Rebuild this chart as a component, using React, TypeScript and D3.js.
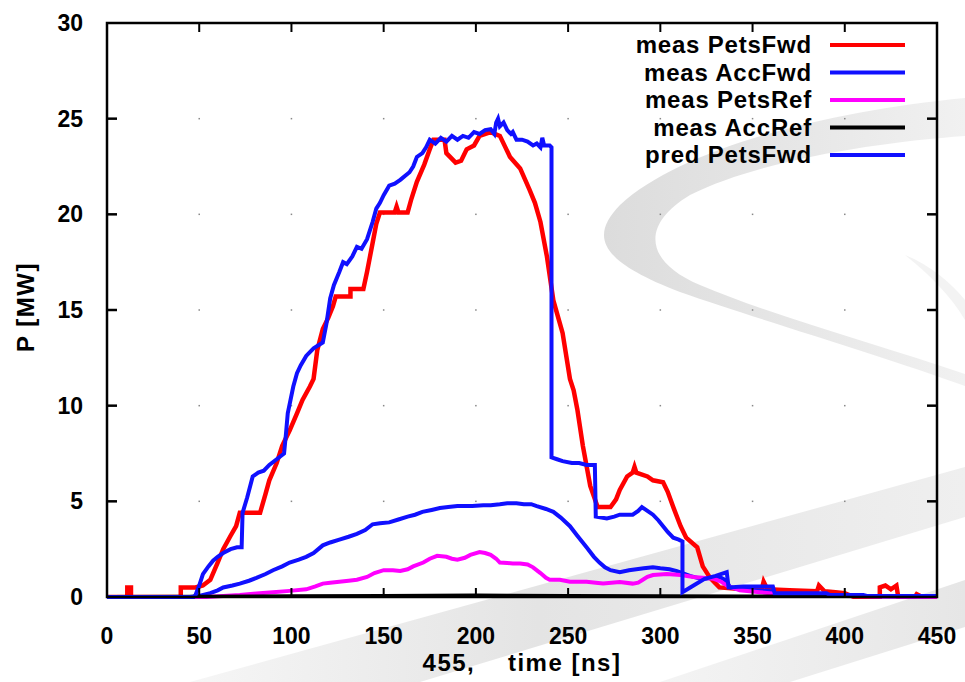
import React from "react";
import * as d3 from "d3";

// ---------- data (time [ns], P [MW]) ----------
const xTicks = [0, 50, 100, 150, 200, 250, 300, 350, 400, 450];
const yTicks = [0, 5, 10, 15, 20, 25, 30];

const legendLabels = ["meas PetsFwd", "meas AccFwd", "meas PetsRef", "meas AccRef", "pred PetsFwd"];

const measPetsFwd: [number, number][] = [
  [0, 0], [11, 0], [11, 0.5], [13, 0.5], [13, 0], [40, 0], [40, 0.5], [48, 0.5], [52, 0.6], [56, 0.9],
  [60, 1.8], [63, 2.5], [67, 3.2], [70, 3.7], [72, 4.4], [83, 4.4], [86, 5.4], [88, 6.1], [92, 7.0],
  [95, 7.9], [99, 8.7], [103, 9.6], [106, 10.3], [110, 11.0], [112, 11.4], [114, 12.9], [117, 14.0],
  [120, 14.6], [122.5, 15.2], [124, 15.7], [132, 15.7], [132, 16.1], [139, 16.1], [141, 17.0],
  [144, 18.5], [146, 19.5], [148, 20.1], [156, 20.1], [157, 20.4], [158, 20.1], [163, 20.1], [165, 20.8],
  [168, 21.7], [172, 22.6], [175, 23.4], [177, 23.9], [183, 23.9], [184, 23.2], [189, 22.7],
  [192, 22.8], [195, 23.4], [199, 23.6], [202, 24.1], [208, 24.3], [213, 24.1], [216, 23.5],
  [218.5, 23.0], [224, 22.4], [229, 21.3], [232, 20.6], [235, 19.6], [238.5, 17.8], [242, 15.5],
  [247, 13.8], [251, 11.4], [253, 10.8], [255, 9.8], [258, 7.9], [262, 5.8], [266, 4.7], [273, 4.7],
  [276, 5.1], [278, 5.6], [282, 6.3], [285, 6.5], [286, 6.8], [287, 6.5], [293, 6.3], [296, 6.1],
  [301.5, 6.0], [304, 5.5], [307, 4.7], [311, 3.7], [314, 3.1], [320, 2.6], [323, 1.6], [327, 1.0],
  [332, 0.5], [340, 0.45], [350, 0.4], [355, 0.4], [356, 0.8], [358, 0.4], [370, 0.35], [385, 0.3],
  [386, 0.6], [389, 0.3], [395, 0.25], [400, 0.2], [405, 0.0], [419, 0.0], [419, 0.5], [422, 0.6],
  [425, 0.4], [428, 0.6], [429, 0.0], [438, 0.0], [439, 0.15], [442, 0.0], [450, 0],
];

const measAccFwd: [number, number][] = [
  [0, 0], [45, 0], [50, 0.05], [56, 0.2], [60, 0.35], [63, 0.5], [68, 0.6], [72, 0.7], [77, 0.85],
  [81, 1.0], [86, 1.2], [90, 1.4], [95, 1.6], [99, 1.8], [104, 1.95], [108, 2.1], [112, 2.3],
  [117, 2.7], [121, 2.85], [126, 3.0], [131, 3.15], [135.5, 3.3], [140, 3.5], [144, 3.8], [148, 3.85],
  [153, 3.9], [158, 4.05], [163, 4.2], [167, 4.3], [171, 4.45], [176, 4.55], [180.5, 4.65], [185, 4.7],
  [190, 4.75], [198, 4.75], [204, 4.8], [208, 4.8], [213, 4.85], [217, 4.9], [222, 4.9], [226, 4.85],
  [230, 4.85], [233, 4.75], [238, 4.6], [242, 4.45], [246, 4.15], [251, 3.7], [255, 3.2], [260, 2.6],
  [264, 2.1], [267, 1.8], [270, 1.55], [273, 1.4], [278, 1.3], [283, 1.4], [287, 1.45], [291, 1.5],
  [296, 1.55], [300, 1.5], [305, 1.45], [309, 1.35], [312, 1.25], [316, 1.1], [320, 1.0], [324, 0.95],
  [328, 1.0], [332, 1.05], [335, 0.9], [338, 0.5], [343, 0.4], [350, 0.35], [360, 0.3], [362, 0.15],
  [380, 0.15], [400, 0.08], [420, 0.03], [450, 0],
];

const measPetsRef: [number, number][] = [
  [0, 0], [54, 0], [63, 0.05], [72, 0.1], [81, 0.18], [90, 0.25], [99, 0.32], [108, 0.4], [113, 0.55],
  [117, 0.7], [121, 0.75], [126, 0.8], [131, 0.85], [135.5, 0.9], [141, 1.05], [145, 1.25], [150, 1.4],
  [155, 1.4], [159, 1.36], [163, 1.45], [166, 1.6], [171.5, 1.8], [175, 2.0], [179, 2.15], [184, 2.1],
  [187, 2.0], [190, 1.95], [194, 2.05], [197, 2.2], [202, 2.35], [205, 2.3], [208, 2.2], [211, 2.0],
  [213, 1.8], [217, 1.78], [220, 1.75], [224, 1.75], [228, 1.7], [231, 1.55], [235, 1.25], [238, 1.0],
  [240, 0.9], [245.5, 0.9], [251, 0.8], [260, 0.8], [265, 0.75], [269, 0.7], [278, 0.78], [285, 0.7],
  [288, 0.75], [290.5, 0.9], [293, 1.05], [296, 1.15], [303.5, 1.2], [311, 1.15], [318, 1.05],
  [329, 0.95], [333, 0.8], [336, 0.6], [343, 0.35], [354, 0.25], [365, 0.15], [387, 0.1], [400, 0.05],
  [420, 0.02], [450, 0],
];

const measAccRef: [number, number][] = [
  [0, 0.03], [50, 0.04], [100, 0.06], [150, 0.08], [200, 0.1], [250, 0.08], [300, 0.06], [350, 0.05],
  [400, 0.04], [450, 0.03],
];

const predPetsFwd: [number, number][] = [
  [0, 0], [47, 0], [48, 0.1], [50, 0.6], [52, 1.2], [55, 1.6], [57.5, 1.9], [60, 2.1], [63, 2.3],
  [67, 2.5], [70.5, 2.6], [73, 2.6], [73.5, 4.4], [76, 5.2], [79, 6.3], [82, 6.5], [85, 6.6], [88, 6.9],
  [92, 7.2], [96, 7.5], [97, 8.5], [98, 9.6], [101, 11.0], [103, 11.7], [105, 12.1], [108, 12.6],
  [112, 13.0], [117, 13.3], [119, 14.3], [121, 15.6], [123, 16.3], [126, 17.0], [128, 17.5],
  [130, 17.4], [133, 17.8], [135.5, 18.3], [138, 18.2], [141, 18.7], [144, 19.6], [146, 20.3],
  [148, 20.6], [150, 21.0], [153, 21.5], [156, 21.6], [159, 21.8], [164, 22.2], [166, 22.5],
  [168, 23.0], [171, 23.2], [173, 23.5], [175, 23.9], [178, 23.7], [181, 24.0], [184, 23.8],
  [187, 24.1], [190, 23.9], [193, 24.1], [196, 24.0], [199, 24.3], [202, 24.2], [205, 24.4],
  [208, 24.45], [210, 24.2], [211, 24.8], [212, 25.0], [213, 24.6], [215, 24.8], [217, 24.4],
  [219, 24.2], [220, 24.3], [222, 23.9], [225, 23.9], [228, 23.8], [231, 23.6], [233, 23.7],
  [235, 23.5], [236, 24.0], [237, 23.6], [240, 23.6], [241, 23.5], [241, 7.3], [244, 7.2], [247, 7.1],
  [252, 7.0], [256, 7.0], [260, 6.9], [264.5, 6.9], [265, 4.2], [271, 4.1], [275, 4.2], [278, 4.3],
  [282, 4.3], [285, 4.3], [288, 4.5], [290, 4.7], [293, 4.5], [296, 4.3], [299, 4.0], [301.5, 3.7],
  [304, 3.4], [307, 3.1], [310, 3.0], [312, 2.9], [312, 0.25], [318, 0.6], [324, 0.95], [330, 1.1],
  [336, 1.3], [337, 0.5], [345, 0.55], [350, 0.55], [361, 0.55], [362, 0.2], [390, 0.2], [392, 0.1],
  [410, 0.1], [412, 0.05], [450, 0.05],
];

const seriesColors = ["#ff0000", "#1010ff", "#ff00ff", "#000000", "#1010ff"];

export default function App() {
  const W = 965;
  const H = 682;
  const x = d3.scaleLinear().domain([0, 450]).range([107, 937]);
  const y = d3.scaleLinear().domain([0, 30]).range([597, 23]);
  const line = d3
    .line<[number, number]>()
    .x((d) => x(d[0]))
    .y((d) => y(d[1]));

  const series = [measPetsFwd, measAccFwd, measPetsRef, measAccRef, predPetsFwd];
  const widths = [4.5, 4, 4, 3, 4];
  const font = "'Liberation Sans', Arial, Helvetica, sans-serif";

  return (
    <svg
      width={W}
      height={H}
      viewBox={`0 0 ${W} ${H}`}
      style={{ position: "absolute", left: 0, top: 0, background: "#fff" }}
    >
      <defs>
        <linearGradient id="arcG" x1="0" y1="0" x2="1" y2="0">
          <stop offset="0" stopColor="#dcdcdc" />
          <stop offset="0.5" stopColor="#e6e6e6" />
          <stop offset="1" stopColor="#f1f1f1" />
        </linearGradient>
        <linearGradient id="band1" x1="0" y1="0" x2="1" y2="0">
          <stop offset="0" stopColor="#f6f6f6" />
          <stop offset="0.45" stopColor="#e4e4e4" />
          <stop offset="1" stopColor="#efefef" />
        </linearGradient>
        <linearGradient id="band2" x1="0" y1="0" x2="1" y2="0">
          <stop offset="0" stopColor="#f4f4f4" />
          <stop offset="1" stopColor="#e6e6e6" />
        </linearGradient>
        <clipPath id="plotClip">
          <rect x={107} y={23} width={830} height={576} />
        </clipPath>
      </defs>

      <rect x={0} y={0} width={W} height={H} fill="#fff" />

      {/* background swoosh */}
      <path
        d="M965 98 C 820 112, 680 150, 620 205 C 588 238, 602 262, 680 292 C 760 320, 880 355, 965 386
           L 965 374 C 880 345, 770 315, 700 285 C 645 262, 640 225, 690 195 C 760 160, 880 142, 965 136 Z"
        fill="url(#arcG)"
      />
      <path
        d="M905 255 C 930 275, 950 295, 965 320 L 965 300 C 950 282, 930 265, 905 255 Z"
        fill="#f3f3f3"
      />
      <path d="M190 682 L 965 467 L 965 517 L 420 682 Z" fill="url(#band1)" />
      <path d="M660 682 L 965 580 L 965 627 L 790 682 Z" fill="url(#band2)" />

      {/* grid dots */}
      {xTicks.slice(1, -1).map((t) =>
        yTicks.slice(1, -1).map((v) => (
          <rect key={`g${t}-${v}`} x={x(t) - 0.75} y={y(v) - 0.75} width={1.5} height={1.5} fill="#888" />
        ))
      )}

      {/* data */}
      <g clipPath="url(#plotClip)" fill="none" strokeLinejoin="miter" strokeLinecap="butt">
        {series.map((s, i) => (
          <path key={i} d={line(s) || ""} stroke={seriesColors[i]} strokeWidth={widths[i]} />
        ))}
      </g>

      {/* frame */}
      <rect x={107} y={23} width={830} height={574} fill="none" stroke="#000" strokeWidth={2.5} />
      {yTicks.slice(1, -1).map((v) => (
        <g key={`yt${v}`} stroke="#000" strokeWidth={2.5}>
          <line x1={107} x2={117} y1={y(v)} y2={y(v)} />
          <line x1={937} x2={927} y1={y(v)} y2={y(v)} />
        </g>
      ))}
      {xTicks.slice(1, -1).map((t) => (
        <g key={`xt${t}`} stroke="#000" strokeWidth={2}>
          <line x1={x(t)} x2={x(t)} y1={597} y2={588} />
          <line x1={x(t)} x2={x(t)} y1={23} y2={32} />
        </g>
      ))}

      {/* tick labels */}
      <g fontFamily={font} fontWeight="bold" fontSize={23} fill="#000">
        {yTicks.map((v) => (
          <text key={`yl${v}`} x={83} y={y(v) + 8} textAnchor="end">
            {v}
          </text>
        ))}
        {xTicks.map((t) => (
          <text key={`xl${t}`} x={x(t)} y={644} textAnchor="middle">
            {t}
          </text>
        ))}
      </g>

      {/* axis titles */}
      <text
        x={522}
        y={671}
        textAnchor="middle"
        fontFamily={font}
        fontWeight="bold"
        fontSize={24}
        letterSpacing={1.5}
        style={{ whiteSpace: "pre" }}
      >
        {"455,    time [ns]"}
      </text>
      <text
        transform="translate(34,307) rotate(-90)"
        textAnchor="middle"
        fontFamily={font}
        fontWeight="bold"
        fontSize={24}
        letterSpacing={1.5}
      >
        P [MW]
      </text>

      {/* legend */}
      <g fontFamily={font} fontWeight="bold" fontSize={24} letterSpacing={0.8}>
        {legendLabels.map((lab, i) => (
          <g key={lab}>
            <text x={812} y={45 + i * 27.5 + 8} textAnchor="end" fill="#000">
              {lab}
            </text>
            <line x1={830} x2={905} y1={45 + i * 27.5} y2={45 + i * 27.5} stroke={seriesColors[i]} strokeWidth={4} />
          </g>
        ))}
      </g>
    </svg>
  );
}
